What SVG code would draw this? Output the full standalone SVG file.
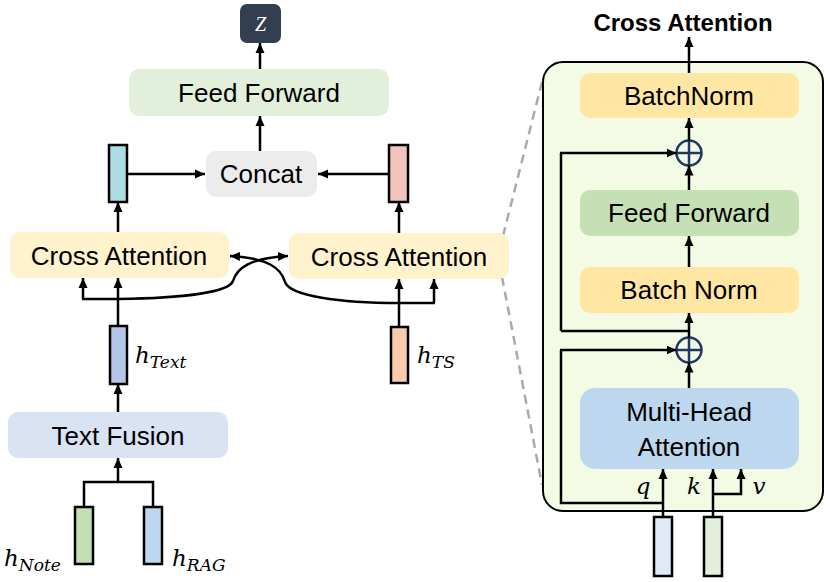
<svg xmlns="http://www.w3.org/2000/svg" width="830" height="582" viewBox="0 0 830 582">
<defs>
<marker id="ah" markerUnits="userSpaceOnUse" markerWidth="10" markerHeight="10" refX="10" refY="5" orient="auto">
<path d="M0,0.5 L10,5 L0,9.5 z" fill="#000"/>
</marker>
<style>
.lbl{font-family:"Liberation Sans",Arial,sans-serif;font-size:26px;fill:#000;text-anchor:middle;dominant-baseline:central}
.ttl{font-family:"Liberation Sans",Arial,sans-serif;font-size:24px;font-weight:bold;fill:#000;text-anchor:middle}
.m{font-family:"DejaVu Serif","Liberation Serif",serif;font-style:italic;fill:#000}
.ln{fill:none;stroke:#000;stroke-width:2.5}
.arr{fill:none;stroke:#000;stroke-width:2.5;marker-end:url(#ah)}
.vec{stroke:#000;stroke-width:2.5}
.dash{fill:none;stroke:#aaa;stroke-width:2.5;stroke-dasharray:9 6}
.plus{fill:#f4fbe4;stroke:#1f3864;stroke-width:2.5}
</style>
</defs>
<rect width="830" height="582" fill="#fff"/>

<g id="zoom-lines">
<path class="dash" d="M503,236 L542,82"/>
<path class="dash" d="M502,277 L542,485"/>
</g>

<g id="panel">
<rect x="543" y="62" width="280" height="449" rx="20" fill="#f4fbe4" stroke="#000" stroke-width="2"/>
<text class="ttl" x="683" y="31">Cross Attention</text>
</g>

<g id="z"><rect x="240" y="4" width="41" height="39" rx="7" fill="#333f50"/><text x="260.5" y="31" text-anchor="middle" font-family="Liberation Serif,serif" font-style="italic" font-size="20" fill="#fff">Z</text></g>
<g id="ff"><rect x="129" y="69" width="260" height="47" rx="10" fill="#e2efda"/><text class="lbl" x="259" y="93">Feed Forward</text></g>
<g id="concat"><rect x="206" y="151" width="111" height="46" rx="10" fill="#ececec"/><text class="lbl" x="261" y="174">Concat</text></g>
<g id="vec-left"><rect class="vec" x="109" y="145" width="18" height="57" fill="#acdce3"/></g>
<g id="vec-right"><rect class="vec" x="389" y="145" width="19" height="57" fill="#f2c4bb"/></g>
<g id="ca-left"><rect x="10" y="232" width="219" height="46" rx="10" fill="#fff2cc"/><text class="lbl" x="119" y="256">Cross Attention</text></g>
<g id="ca-right"><rect x="289" y="233" width="220" height="46" rx="10" fill="#fff2cc"/><text class="lbl" x="399" y="257">Cross Attention</text></g>
<g id="h-text"><rect class="vec" x="110" y="326" width="17" height="58" fill="#b4c7e7"/>
<text class="m" x="135" y="363" font-size="23">h<tspan font-size="17" dy="5">Text</tspan></text></g>
<g id="h-ts"><rect class="vec" x="391" y="327" width="17" height="56" fill="#f8cbad"/>
<text class="m" x="417" y="363" font-size="23">h<tspan font-size="17" dy="5">TS</tspan></text></g>
<g id="text-fusion"><rect x="8" y="412" width="220" height="46" rx="10" fill="#dae3f3"/><text class="lbl" x="118" y="436">Text Fusion</text></g>
<g id="h-note"><rect class="vec" x="75" y="507" width="18" height="57" fill="#c5e0b4"/>
<text class="m" x="4" y="566" font-size="23">h<tspan font-size="17" dy="5">Note</tspan></text></g>
<g id="h-rag"><rect class="vec" x="144" y="507" width="18" height="57" fill="#bdd7ee"/>
<text class="m" x="172" y="566" font-size="23">h<tspan font-size="17" dy="5">RAG</tspan></text></g>

<g id="bn-top"><rect x="580" y="73" width="219" height="45" rx="10" fill="#ffe7a3"/><text class="lbl" x="689" y="96">BatchNorm</text></g>
<g id="add1"><circle class="plus" cx="689" cy="153" r="12.5"/><path d="M676.5,153 H701.5 M689,140.5 V165.5" stroke="#1f3864" stroke-width="2.5"/></g>
<g id="ff-r"><rect x="580" y="190" width="219" height="46" rx="10" fill="#c5e0b4"/><text class="lbl" x="689" y="213">Feed Forward</text></g>
<g id="bn-mid"><rect x="580" y="267" width="219" height="46" rx="10" fill="#ffe7a3"/><text class="lbl" x="689" y="290">Batch Norm</text></g>
<g id="add2"><circle class="plus" cx="689" cy="350" r="12.5"/><path d="M676.5,350 H701.5 M689,337.5 V362.5" stroke="#1f3864" stroke-width="2.5"/></g>
<g id="mha"><rect x="580" y="388" width="219" height="81" rx="15" fill="#bdd7ee"/><text class="lbl" x="689" y="412">Multi-Head</text><text class="lbl" x="689" y="447">Attention</text></g>
<g id="vec-q"><rect class="vec" x="654" y="517" width="18" height="59" fill="#deebf7"/></g>
<g id="vec-k"><rect class="vec" x="704" y="517" width="18" height="59" fill="#e2efda"/></g>
<g id="qkv-labels">
<text class="m" x="643" y="494" font-size="23" text-anchor="middle">q</text>
<text class="m" x="694" y="494" font-size="23" text-anchor="middle">k</text>
<text class="m" x="759" y="494" font-size="23" text-anchor="middle">v</text>
</g>

<g id="connectors">
<path class="arr" d="M260,69 V43"/>
<path class="arr" d="M260,151 V116"/>
<path class="arr" d="M127,174 H205"/>
<path class="arr" d="M389,174 H318"/>
<path class="arr" d="M118,232 V202"/>
<path class="arr" d="M399,233 V202"/>
<path class="arr" d="M118,326 V278"/>
<path class="arr" d="M83,299 V278"/>
<path class="ln" d="M82,299 H118"/>
<path class="arr" d="M118,299 C185,298 229,292 233,281 C237,268 250,258 288,256"/>
<path class="arr" d="M399,327 V279"/>
<path class="arr" d="M434,303 V279"/>
<path class="arr" d="M435,303 H399 C340,303 290,296 285,282 C281,268 268,258 230,256"/>
<path class="arr" d="M118,412 V384"/>
<path class="arr" d="M118,482 V458"/>
<path class="ln" d="M84,507 V482 H153 V507"/>
<path class="arr" d="M689,73 V37"/>
<path class="arr" d="M689,140.5 V118"/>
<path class="arr" d="M689,190 V165.5"/>
<path class="ln" d="M561,331 V153"/>
<path class="arr" d="M560,153 H676.5"/>
<path class="arr" d="M689,267 V236"/>
<path class="ln" d="M561,331 H689"/>
<path class="arr" d="M689,337.5 V313"/>
<path class="arr" d="M689,388 V362.5"/>
<path class="arr" d="M560,350 H676.5"/>
<path class="ln" d="M561,350 V503 H663"/>
<path class="arr" d="M663,517 V469"/>
<path class="arr" d="M713,517 V469"/>
<path class="arr" d="M712,494 H741 V469"/>
</g>
</svg>
